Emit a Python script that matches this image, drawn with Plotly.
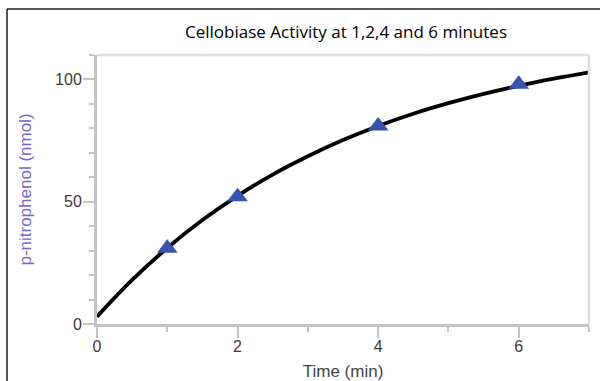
import plotly.graph_objects as go

# Measured points (time in minutes, p-nitrophenol in nmol)
time_points = [1, 2, 4, 6]
pnp_values = [31, 52, 81, 98]

# Fitted curve
curve_time = [0, 0.5, 1, 1.5, 2, 2.5, 3, 3.5, 4, 4.5, 5, 5.5, 6, 6.5, 7]
curve_values = [3, 18.0, 31.1, 42.5, 52.4, 61.1, 68.6, 75.2, 81.0, 86.0, 90.3, 94.1, 97.4, 100.3, 102.9]

x_ticks = [0, 2, 4, 6]
y_ticks = [0, 50, 100]

title_text = "Cellobiase Activity at 1,2,4 and 6 minutes"
x_title = "Time (min)"
y_title = "p-nitrophenol (nmol)"

W, H = 600, 381
L, R, T, B = 97, 11, 55, 57
pw, ph = W - L - R, H - T - B

fig = go.Figure()
fig.add_trace(go.Scatter(
    x=curve_time, y=curve_values, mode="lines",
    line=dict(color="black", width=3.8, shape="spline"),
    hoverinfo="skip", showlegend=False))
fig.add_trace(go.Scatter(
    x=time_points, y=pnp_values, mode="markers",
    marker=dict(symbol="triangle-up", size=18, color="#3953aa"),
    showlegend=False))

axis_grey = "#c4c4c4"
lab_font = "Arial, Liberation Sans, sans-serif"
tick_font = dict(family=lab_font, size=16, color="#3f3838")

fig.update_xaxes(
    range=[0, 7], tickvals=x_ticks, ticks="outside", ticklen=11, tickwidth=2,
    tickcolor=axis_grey, showline=True, linecolor=axis_grey, linewidth=3,
    showgrid=False, zeroline=False, tickfont=tick_font, automargin=False,
    ticklabelstandoff=-5,
    minor=dict(dtick=1, tick0=0, ticks="outside", ticklen=5, tickwidth=2, tickcolor=axis_grey, showgrid=False),
    title=dict(text=x_title, font=dict(family=lab_font, size=17, color="#444"), standoff=12),
)
fig.update_yaxes(
    range=[0, 110], tickvals=y_ticks, ticks="outside", ticklen=11, tickwidth=2,
    tickcolor=axis_grey, showline=True, linecolor=axis_grey, linewidth=3,
    showgrid=False, zeroline=False, tickfont=tick_font, automargin=False,
    ticklabelstandoff=-2,
    minor=dict(dtick=10, tick0=0, ticks="outside", ticklen=5, tickwidth=2, tickcolor=axis_grey, showgrid=False),
    title=dict(text=y_title, font=dict(family=lab_font, size=17, color="#6a6ac8"), standoff=20),
)

def px_x(p):
    return (p - L) / pw

def px_y(p):
    return (H - B - p) / ph

shapes = [
    # outer dark frame (top and left)
    dict(type="line", xref="paper", yref="paper", x0=px_x(7), x1=px_x(605), y0=px_y(9), y1=px_y(9),
         line=dict(color="#1e1e1e", width=1.5)),
    dict(type="line", xref="paper", yref="paper", x0=px_x(7), x1=px_x(7), y0=px_y(9), y1=px_y(390),
         line=dict(color="#1e1e1e", width=1.5)),
    # light plot frame top and right
    dict(type="line", xref="paper", yref="paper", x0=0, x1=1, y0=1, y1=1,
         line=dict(color="#dddddd", width=2.5)),
    dict(type="line", xref="paper", yref="paper", x0=1, x1=1, y0=0, y1=1,
         line=dict(color="#dddddd", width=2.5)),
]

fig.update_layout(
    width=W, height=H,
    margin=dict(l=L, r=R, t=T, b=B, autoexpand=False),
    paper_bgcolor="white", plot_bgcolor="white",
    title=dict(text=title_text, x=(346) / W, xanchor="center", y=1 - 32 / H, yanchor="middle",
               font=dict(family="Open Sans, Noto Sans, sans-serif", size=17, color="black")),
    shapes=shapes,
)

fig.write_html("out.html", config={"displayModeBar": False},
               post_script="document.body.style.margin='0';document.body.style.overflow='hidden';")
